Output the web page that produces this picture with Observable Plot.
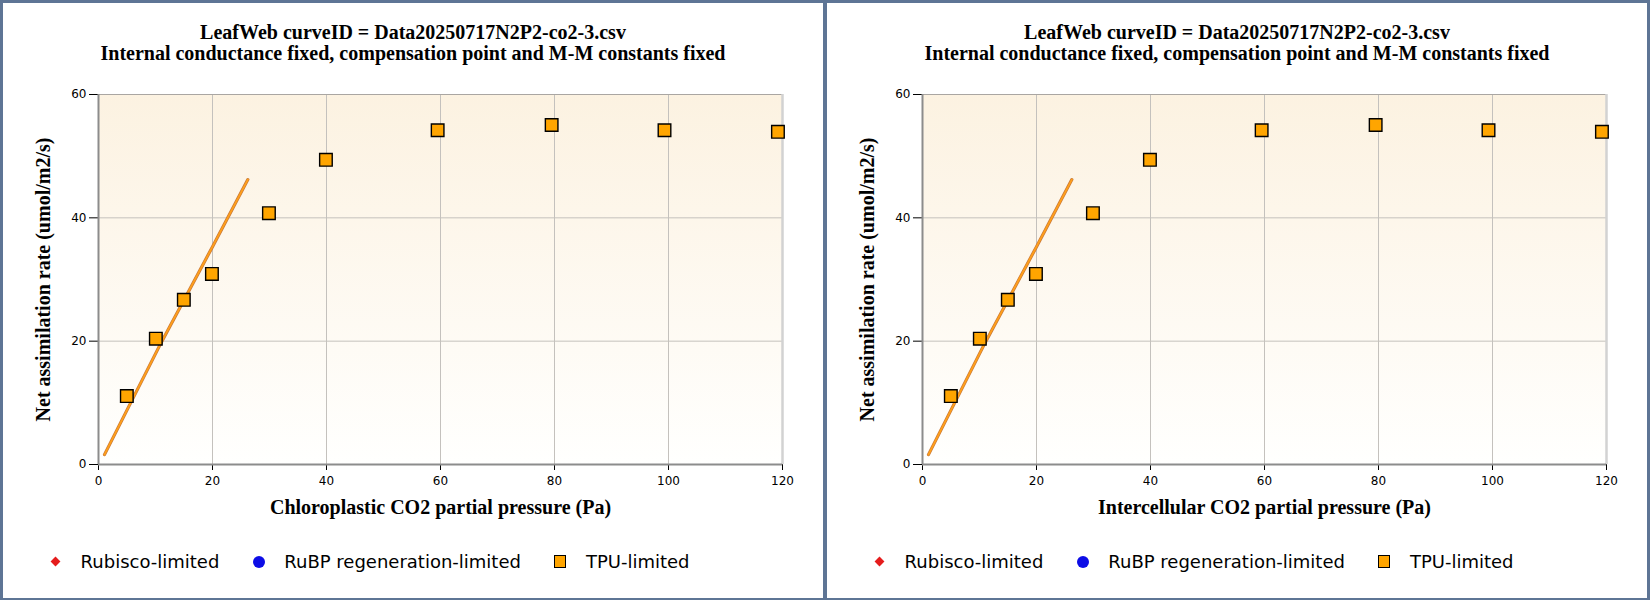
<!DOCTYPE html>
<html><head><meta charset="utf-8">
<script src="https://cdn.jsdelivr.net/npm/d3@7"></script>
<script src="https://cdn.jsdelivr.net/npm/@observablehq/plot@0.6"></script>
<style>
body{margin:0;background:#fff}
#wrap{position:relative;width:1650px;height:600px;box-sizing:border-box;border:3px solid #5e7595;border-bottom-width:2px;display:flex;background:#fff}
.panel{position:relative;width:820px;height:595px;overflow:hidden;background:#fff}
.divider{width:4px;height:595px;background:#5e7595}
.title{position:absolute;left:0;top:18.5px;width:820px;text-align:center;font:bold 20px/21px "Liberation Serif";color:#000;white-space:nowrap}
.legend{position:absolute;left:45px;top:547.5px;height:22px;display:flex;align-items:center;font:18px/22px "DejaVu Sans";color:#000;white-space:nowrap}
.item{display:flex;align-items:center;margin-right:32.4px}
.sym{width:14px;height:14px;display:flex;align-items:center;justify-content:center;margin-right:18.6px}
.plotbox{position:absolute;left:0;top:0}
</style></head>
<body><div id="wrap"></div>
<script>
// ---- data ----
const titleLine1 = "LeafWeb curveID = Data20250717N2P2-co2-3.csv";
const titleLine2 = "Internal conductance fixed, compensation point and M-M constants fixed";
const xLabels = ["Chloroplastic CO2 partial pressure (Pa)", "Intercellular CO2 partial pressure (Pa)"];
const yLabel = "Net assimilation rate (umol/m2/s)";
const xTicks = [0, 20, 40, 60, 80, 100, 120];
const yTicks = [0, 20, 40, 60];
const xGrid = [20, 40, 60, 80, 100];
const yGrid = [20, 40];
const xDomain = [0, 120];
const yDomain = [0, 60];
// TPU-limited observations
const ciValues = [4.97, 10.06, 14.97, 19.9, 29.9, 39.9, 59.5, 79.5, 99.3, 119.2];
const anValues = [11.1, 20.4, 26.7, 30.9, 40.75, 49.4, 54.2, 55.05, 54.2, 53.95];
// fitted Rubisco-limited curve
const fitX = [1.05, 10.9, 20.05, 26.2];
const fitY = [1.6, 19.6, 35.4, 46.2];
// legend
const seriesNames = ["Rubisco-limited", "RuBP regeneration-limited", "TPU-limited"];
const seriesColors = ["#e51c1c", "#0d0de6", "#ffa500"];
const seriesSymbols = ["diamond", "circle", "square"];

const points = ciValues.map((x, i) => ({x, y: anValues[i]}));
const fit = fitX.map((x, i) => ({x, y: fitY[i]}));

const wrap = document.getElementById("wrap");
xLabels.forEach((xl, k) => {
  if (k > 0) { const d = document.createElement("div"); d.className = "divider"; wrap.appendChild(d); }
  const panel = document.createElement("div");
  panel.className = "panel";
  wrap.appendChild(panel);

  const gid = "bggrad" + k;
  const chart = Plot.plot({
    width: 820, height: 540,
    marginTop: 91, marginBottom: 79, marginLeft: 95, marginRight: 41,
    x: {domain: xDomain, ticks: xTicks, tickSize: 6, tickPadding: 6, label: null},
    y: {domain: yDomain, ticks: yTicks, tickSize: 9, tickPadding: 3, label: null},
    style: {fontFamily: "DejaVu Sans", fontSize: "12px", background: "transparent", color: "#000", overflow: "visible"},
    marks: [
      Plot.frame({fill: `url(#${gid})`, stroke: "none"}),
      Plot.ruleX(xGrid, {stroke: "#c4c1bd", strokeWidth: 1}),
      Plot.ruleY(yGrid, {stroke: "#c4c1bd", strokeWidth: 1}),
      Plot.ruleY([yDomain[1]], {stroke: "#aaa6a2", strokeWidth: 1}),
      Plot.ruleX([xDomain[1]], {stroke: "#d2d2d2", strokeWidth: 2.5}),
      Plot.ruleX([xDomain[0]], {stroke: "#8c8c8c", strokeWidth: 2}),
      Plot.ruleY([yDomain[0]], {stroke: "#8c8c8c", strokeWidth: 2}),
      Plot.line(fit, {x: "x", y: "y", stroke: "#c97a3a", strokeWidth: 3.2}),
      Plot.line(fit, {x: "x", y: "y", stroke: "#ff9f1a", strokeWidth: 1.8}),
      Plot.dot(points, {x: "x", y: "y", symbol: "square", r: 7.1, fill: seriesColors[2], stroke: "#000", strokeWidth: 1.4}),
      Plot.text([xl], {text: d => d, frameAnchor: "bottom", textAnchor: "middle", lineAnchor: "middle", dy: 43, fontFamily: "Liberation Serif", fontSize: 20, fontWeight: "bold", fill: "#000"}),
      Plot.text([yLabel], {text: d => d, frameAnchor: "left", textAnchor: "middle", lineAnchor: "middle", dx: -55.3, rotate: -90, fontFamily: "Liberation Serif", fontSize: 20, fontWeight: "bold", fill: "#000"})
    ]
  });
  const ns = "http://www.w3.org/2000/svg";
  const defs = document.createElementNS(ns, "defs");
  const lg = document.createElementNS(ns, "linearGradient");
  lg.setAttribute("id", gid);
  lg.setAttribute("x1", "0"); lg.setAttribute("y1", "0");
  lg.setAttribute("x2", "0"); lg.setAttribute("y2", "1");
  [["0", "#fcf2e1"], ["1", "#fffffe"]].forEach(([o, c]) => {
    const s = document.createElementNS(ns, "stop");
    s.setAttribute("offset", o); s.setAttribute("stop-color", c);
    lg.appendChild(s);
  });
  defs.appendChild(lg);
  chart.insertBefore(defs, chart.firstChild);

  const box = document.createElement("div");
  box.className = "plotbox";
  box.appendChild(chart);
  panel.appendChild(box);

  const title = document.createElement("div");
  title.className = "title";
  title.innerHTML = `${titleLine1}<br>${titleLine2}`;
  panel.appendChild(title);

  const legend = document.createElement("div");
  legend.className = "legend";
  seriesNames.forEach((name, i) => {
    const item = document.createElement("div");
    item.className = "item";
    const sym = document.createElement("div");
    sym.className = "sym";
    const inner = document.createElement("div");
    if (seriesSymbols[i] === "diamond") {
      inner.style.cssText = `width:7px;height:7px;background:${seriesColors[i]};transform:rotate(45deg)`;
    } else if (seriesSymbols[i] === "circle") {
      inner.style.cssText = `width:12px;height:12px;border-radius:50%;background:${seriesColors[i]}`;
    } else {
      inner.style.cssText = `width:10px;height:11px;background:${seriesColors[i]};border:1px solid #000`;
    }
    sym.appendChild(inner);
    const txt = document.createElement("span");
    txt.textContent = name;
    item.appendChild(sym); item.appendChild(txt);
    legend.appendChild(item);
  });
  panel.appendChild(legend);
});
</script>
</body></html>
